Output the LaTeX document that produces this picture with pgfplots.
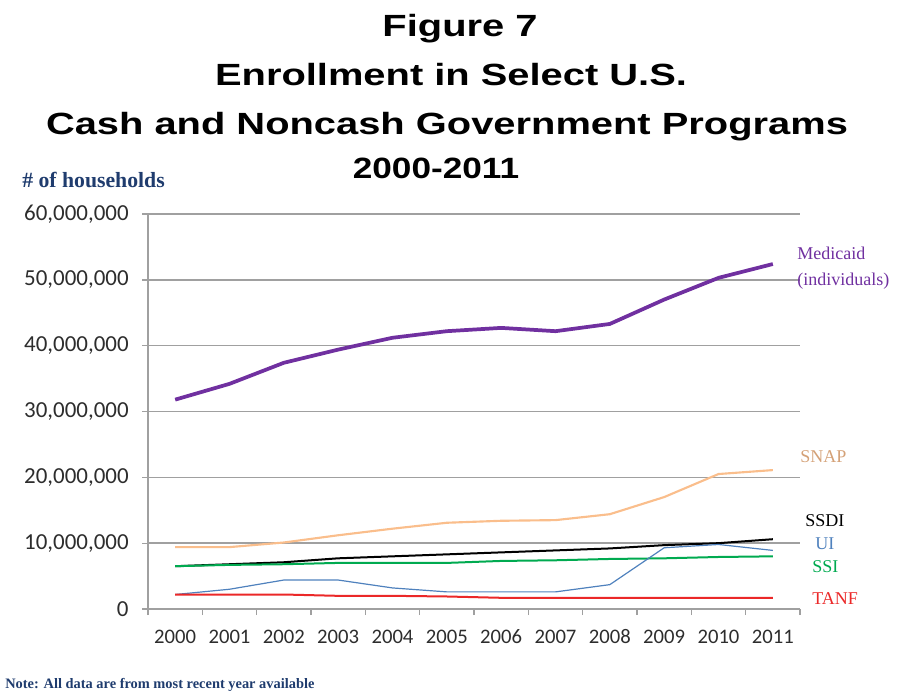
\documentclass[border=0pt]{standalone}
\usepackage{pgfplots}
\pgfplotsset{compat=1.18}
\usepackage{fontspec}
\setmainfont{Carlito}
\newfontfamily\arialfont{Liberation Sans}
\newfontfamily\seriffont{Liberation Serif}
\definecolor{medcol}{RGB}{112,48,160}
\definecolor{snapcol}{RGB}{250,190,140}
\definecolor{uicol}{RGB}{79,129,189}
\definecolor{ssicol}{RGB}{0,170,80}
\definecolor{tanfcol}{RGB}{235,40,40}
\definecolor{gridcol}{RGB}{160,160,160}
\definecolor{ticktext}{RGB}{45,45,45}
\definecolor{notecol}{RGB}{31,60,110}

\pgfplotstableread{
year medicaid snap ssdi ui ssi tanf
0  31800000  9400000  6500000 2200000 6500000 2200000
1  34200000  9400000  6800000 3000000 6700000 2200000
2  37400000 10100000  7100000 4400000 6800000 2200000
3  39400000 11200000  7700000 4400000 7000000 2000000
4  41200000 12200000  8000000 3200000 7000000 2000000
5  42200000 13100000  8300000 2600000 7000000 1900000
6  42700000 13400000  8600000 2600000 7300000 1700000
7  42200000 13500000  8900000 2600000 7400000 1700000
8  43300000 14400000  9200000 3700000 7600000 1700000
9  47000000 17000000  9700000 9300000 7700000 1700000
10 50300000 20500000 10000000 9800000 7900000 1700000
11 52400000 21100000 10600000 8900000 8000000 1700000
}\datatable

\begin{document}
\begin{tikzpicture}
\begin{scope}[x=0.75pt,y=-0.75pt]
\useasboundingbox (0,0) rectangle (897,691);
\node[font=\arialfont\bfseries\fontsize{23}{23}\selectfont, anchor=base, inner sep=0pt] at (460,37) {\scalebox{1.3}[1]{Figure 7}};
\node[font=\arialfont\bfseries\fontsize{23}{23}\selectfont, anchor=base, inner sep=0pt] at (451,86) {\scalebox{1.3}[1]{Enrollment in Select U.S.}};
\node[font=\arialfont\bfseries\fontsize{23}{23}\selectfont, anchor=base, inner sep=0pt] at (447,135) {\scalebox{1.3}[1]{Cash and Noncash Government Programs}};
\node[font=\arialfont\bfseries\fontsize{22}{22}\selectfont, anchor=base, inner sep=0pt] at (436,179) {\scalebox{1.2}[1]{2000-2011}};
\node[font=\seriffont\bfseries\fontsize{16.3}{16.3}\selectfont, text=notecol, anchor=base west, inner sep=0pt] at (22,188) {\# of households};
\node[font=\seriffont\bfseries\fontsize{10.8}{10.8}\selectfont, text=notecol, anchor=base west, inner sep=0pt] at (5,688) {Note: All data are from most recent year available};
\end{scope}

\begin{axis}[
  at={(111pt,-456.75pt)}, anchor=south west, scale only axis,
  width=489pt, height=296.25pt,
  xmin=-0.5, xmax=11.5, ymin=0, ymax=60000000,
  axis x line*=bottom, axis y line*=left,
  axis line style={draw=gridcol, line width=1.2pt},
  xtick={-0.5,0.5,...,11.5}, xticklabels={},
  extra x ticks={0,1,2,3,4,5,6,7,8,9,10,11},
  extra x tick labels={2000,2001,2002,2003,2004,2005,2006,2007,2008,2009,2010,2011},
  extra x tick style={major tick length=0pt, grid=none},
  ytick={0,10000000,20000000,30000000,40000000,50000000,60000000},
  scaled y ticks=false,
  y tick label style={/pgf/number format/fixed, /pgf/number format/1000 sep={,}, xshift=-6.5pt, font=\fontsize{17.2}{17.2}\selectfont},
  /pgf/number format/assume math mode=true,
  tick align=outside, major tick length=4.5pt,
  tick style={draw=gridcol, line width=1pt},
  ymajorgrids, grid style={draw=gridcol, line width=1.2pt},
  ticklabel style={text=ticktext},
  x tick label style={font=\fontsize{15.5}{15.5}\selectfont, text height=11pt, text depth=0pt, anchor=north, yshift=-11pt},
  clip=false,
]
\addplot[medcol, line width=2.8pt] table[x=year,y=medicaid]{\datatable};
\addplot[snapcol, line width=1.6pt] table[x=year,y=snap]{\datatable};
\addplot[black, line width=1.5pt] table[x=year,y=ssdi]{\datatable};
\addplot[ssicol, line width=1.5pt] table[x=year,y=ssi]{\datatable};
\addplot[uicol, line width=0.9pt] table[x=year,y=ui]{\datatable};
\addplot[tanfcol, line width=1.5pt] table[x=year,y=tanf]{\datatable};
\end{axis}

\begin{scope}[x=0.75pt,y=-0.75pt, every node/.style={font=\seriffont\fontsize{13.5}{15}\selectfont, anchor=base west, inner sep=0pt}]
\node[text=medcol] at (797,260) {Medicaid};
\node[text=medcol] at (797,286) {(individuals)};
\node[text=snapcol!85!black] at (800,463) {SNAP};
\node[text=black] at (805,527) {SSDI};
\node[text=uicol] at (815,550) {UI};
\node[text=ssicol] at (812,573) {SSI};
\node[text=tanfcol] at (812,605) {TANF};
\end{scope}
\end{tikzpicture}
\end{document}
